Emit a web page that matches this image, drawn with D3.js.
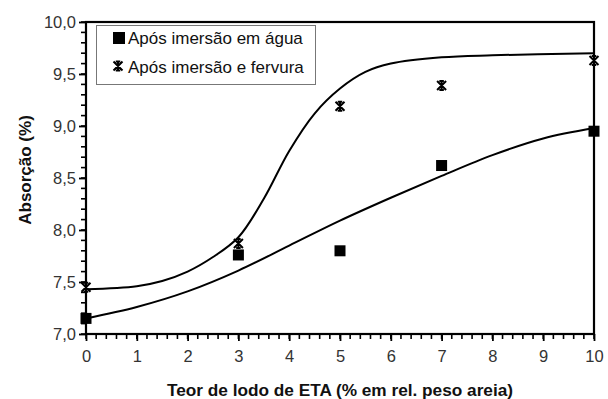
<!DOCTYPE html>
<html><head><meta charset="utf-8">
<script src="https://cdn.jsdelivr.net/npm/d3@7"></script>
<style>body{margin:0;background:#fff;}svg{display:block;font-family:"Liberation Sans",Arial,sans-serif;}</style>
</head><body><svg id="c" width="608" height="399"></svg>
<script>
// Measured points
const teor = [0, 3, 5, 7, 10];
const aguaVals = [7.15, 7.76, 7.80, 8.62, 8.95];
const ferviVals = [7.45, 7.87, 9.19, 9.39, 9.63];
// Fitted curves
const fitAguaX = [0, 1, 2, 3, 4, 5, 6, 7, 8, 9, 10];
const fitAguaY = [7.15, 7.26, 7.41, 7.61, 7.85, 8.09, 8.31, 8.52, 8.72, 8.88, 8.98];
const fitFerviX = [0, 1, 1.5, 2, 2.5, 3, 3.5, 4, 4.5, 5, 5.5, 6, 7, 8, 10];
const fitFerviY = [7.43, 7.46, 7.51, 7.60, 7.74, 7.93, 8.30, 8.76, 9.12, 9.36, 9.52, 9.60, 9.66, 9.68, 9.70];
const xTicks = [0,1,2,3,4,5,6,7,8,9,10];
const yTicks = [7.0,7.5,8.0,8.5,9.0,9.5,10.0];
const legendLabels = ["Após imersão em água", "Após imersão e fervura"];
const xTitle = "Teor de lodo de ETA (% em rel. peso areia)";
const yTitle = "Absorção (%)";

const svg = d3.select("#c");
const x = d3.scaleLinear().domain([0,10]).range([86,594]);
const y = d3.scaleLinear().domain([7,10]).range([334,22]);
const fmt = v => d3.format(".1f")(v).replace(".", ",");

// minor ticks
const minorX = d3.range(0, 10.001, 0.2);
const minorY = d3.range(7, 10.001, 0.1);
svg.append("g").selectAll("line").data(minorX).join("line")
  .attr("x1", d=>x(d)).attr("x2", d=>x(d)).attr("y1", 334).attr("y2", 339)
  .attr("stroke","#000").attr("stroke-width",1.6);
svg.append("g").selectAll("line").data(minorY).join("line")
  .attr("y1", d=>y(d)).attr("y2", d=>y(d)).attr("x1", 86).attr("x2", 81)
  .attr("stroke","#000").attr("stroke-width",1.6);

// axes with major ticks
const xAxis = svg.append("g").attr("transform","translate(0,334)")
  .call(d3.axisBottom(x).tickValues(xTicks).tickSize(7).tickPadding(9).tickFormat(d3.format("d")));
const yAxis = svg.append("g").attr("transform","translate(86,0)")
  .call(d3.axisLeft(y).tickValues(yTicks).tickSize(7).tickPadding(3).tickFormat(fmt));
[xAxis, yAxis].forEach(g => {
  g.select(".domain").remove();
  g.selectAll(".tick line").attr("stroke","#000").attr("stroke-width",1.8);
  g.selectAll("text").attr("font-size", 16.5).attr("fill","#333").attr("font-family","Liberation Sans, Arial, sans-serif");
});

// frame
svg.append("rect").attr("x",86).attr("y",22).attr("width",508).attr("height",312)
  .attr("fill","none").attr("stroke","#000").attr("stroke-width",2.2);

// curves
const line = d3.line().x(d=>x(d[0])).y(d=>y(d[1])).curve(d3.curveCatmullRom.alpha(0.5));
svg.append("path").datum(d3.zip(fitAguaX, fitAguaY)).attr("d", line)
  .attr("fill","none").attr("stroke","#000").attr("stroke-width",2);
svg.append("path").datum(d3.zip(fitFerviX, fitFerviY)).attr("d", line)
  .attr("fill","none").attr("stroke","#000").attr("stroke-width",2);

// markers
function star(g, cx, cy, s) {
  g.append("path").attr("d",
    `M${cx-s},${cy-s}L${cx+s},${cy+s}M${cx+s},${cy-s}L${cx-s},${cy+s}M${cx},${cy-s}L${cx},${cy+s}M${cx-s*0.5},${cy-s}L${cx+s*0.5},${cy-s}M${cx-s*0.5},${cy+s}L${cx+s*0.5},${cy+s}`)
    .attr("stroke","#000").attr("stroke-width",2).attr("fill","none");
}
const sq = 11;
svg.append("g").selectAll("rect").data(d3.zip(teor, aguaVals)).join("rect")
  .attr("x", d=>x(d[0])-sq/2).attr("y", d=>y(d[1])-sq/2).attr("width",sq).attr("height",sq).attr("fill","#000");
const sg = svg.append("g");
d3.zip(teor, ferviVals).forEach(d => star(sg, x(d[0]), y(d[1]), 4.5));

// legend
const lg = svg.append("g");
lg.append("rect").attr("x",96.5).attr("y",25.5).attr("width",219).attr("height",59)
  .attr("fill","#fff").attr("stroke","#777").attr("stroke-width",1);
lg.append("rect").attr("x",113).attr("y",32).attr("width",12).attr("height",12).attr("fill","#000");
star(lg, 118, 66, 4.5);
lg.selectAll("text").data(legendLabels).join("text")
  .attr("x",128).attr("y",(d,i)=>44+i*28.5).attr("font-size",17).attr("fill","#111").text(d=>d);

// titles
svg.append("text").attr("x",340).attr("y",396).attr("text-anchor","middle")
  .attr("font-size",16).attr("font-weight","bold").attr("fill","#111")
  .attr("textLength",346).attr("lengthAdjust","spacingAndGlyphs").text(xTitle);
svg.append("text").attr("transform","translate(31,170) rotate(-90)").attr("text-anchor","middle")
  .attr("font-size",17).attr("font-weight","bold").attr("fill","#111").text(yTitle);
</script></body></html>
